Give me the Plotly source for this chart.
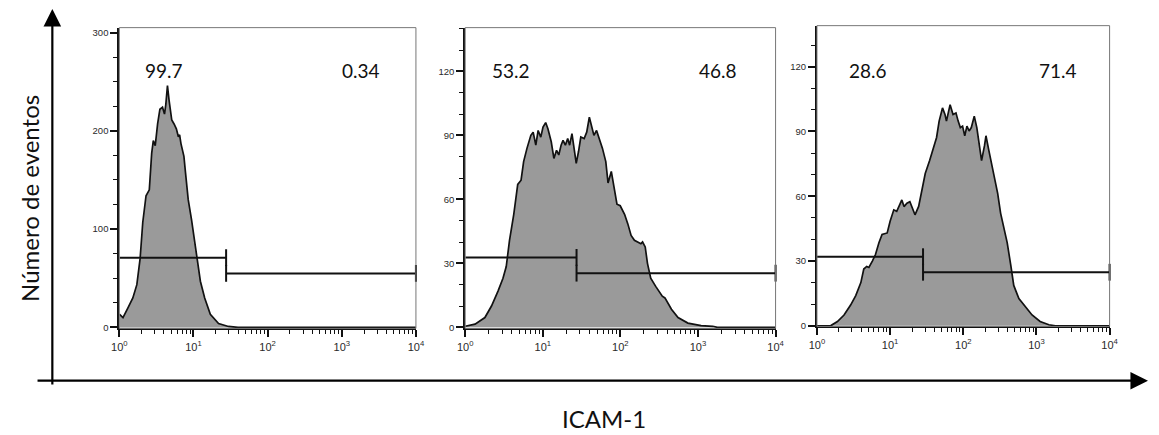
import numpy as np
import plotly.graph_objects as go

# ---------------- data (x as log10 ICAM-1 intensity, y as event counts) ----------------
p1_log = [0.0, 0.049, 0.116, 0.182, 0.236, 0.28, 0.316, 0.36, 0.404, 0.436, 0.458, 0.484, 0.516,
          0.547, 0.582, 0.609, 0.627, 0.649, 0.671, 0.707, 0.738, 0.769, 0.796, 0.813, 0.831,
          0.871, 0.893, 0.929, 0.973, 1.018, 1.049, 1.093, 1.151, 1.227, 1.338, 1.471, 1.6, 4.0]
p1_count = [13.5, 10, 20, 30, 43.5, 70, 107, 134, 140, 177, 190, 185, 207,
            222, 224, 217, 227, 246, 231, 211, 207, 202, 194, 196, 187,
            174, 157, 130, 110, 87, 67, 47, 30, 13.4, 4, 1, 0, 0]

p2_log = [0.0, 0.127, 0.254, 0.339, 0.423, 0.487, 0.529, 0.571, 0.626, 0.677, 0.72, 0.753, 0.796,
          0.825, 0.846, 0.876, 0.91, 0.94, 0.974, 1.003, 1.037, 1.067, 1.109, 1.143, 1.177, 1.206,
          1.236, 1.261, 1.291, 1.321, 1.346, 1.376, 1.397, 1.431, 1.46, 1.49, 1.533, 1.566, 1.6,
          1.63, 1.659, 1.693, 1.727, 1.769, 1.812, 1.841, 1.883, 1.926, 1.956, 1.998, 2.054, 2.096,
          2.138, 2.181, 2.235, 2.264, 2.286, 2.32, 2.349, 2.391, 2.455, 2.54, 2.574, 2.658, 2.743,
          2.87, 3.04, 3.19, 3.25, 4.0]
p2_count = [0.5, 1.5, 4.6, 10, 17, 23, 28.5, 40.8, 53, 67, 69, 77.7, 83.9,
            87, 90, 91.5, 85.4, 92.3, 89.2, 93.9, 96, 93, 87, 79.2, 83, 80.8,
            85.4, 87.7, 85.4, 88.5, 85.4, 90.8, 85.4, 76.9, 82.3, 89.2, 88.5, 91.5, 98.5,
            93.9, 90, 92.3, 88.5, 83.9, 77.7, 67.7, 73.1, 63.9, 57.7, 57, 53, 48.5,
            43.1, 40.8, 40, 39.2, 40, 37.7, 30, 23, 19.2, 14.6, 13.8, 8.5, 4.6,
            2, 0.8, 0.5, 0, 0]

p3_log = [0.0, 0.19, 0.28, 0.37, 0.46, 0.53, 0.6, 0.64, 0.68, 0.71, 0.757, 0.8, 0.847, 0.89, 0.96,
          1.0, 1.05, 1.09, 1.13, 1.16, 1.19, 1.23, 1.27, 1.3, 1.34, 1.39, 1.43, 1.48, 1.54, 1.59,
          1.635, 1.67, 1.716, 1.75, 1.77, 1.8, 1.82, 1.86, 1.9, 1.93, 1.96, 1.99, 2.02, 2.05, 2.08,
          2.11, 2.15, 2.185, 2.22, 2.25, 2.29, 2.31, 2.35, 2.38, 2.42, 2.47, 2.51, 2.56, 2.6, 2.65,
          2.69, 2.76, 2.85, 2.94, 3.05, 3.17, 3.26, 4.0]
p3_count = [0, 0.1, 2, 5, 9.6, 14, 20, 26.3, 27.5, 27, 30, 33, 38.5, 42.3, 43,
            48.4, 53.7, 53, 56, 58.3, 55.2, 56.8, 57.5, 54.5, 51.4, 55.3, 62.8, 70.5, 76.5, 82.6,
            87.2, 94.8, 100.9, 97.9, 94.8, 99.4, 102.4, 97.9, 98.6, 94.8, 91.8, 92.5, 88, 92.5, 90.2,
            91.8, 97.1, 91.8, 84.2, 76.5, 83.4, 88, 81.1, 76.5, 70.5, 61.3, 52.2, 44.6, 38.5, 27.9,
            18.7, 12.6, 8.8, 5, 2, 0.5, 0, 0]

gate_split_log = [1.44, 1.435, 1.45]
gate_left_y = [71, 32.8, 32]
gate_right_y = [55, 25.4, 24.8]
pct_left = ["99.7", "53.2", "28.6"]
pct_right = ["0.34", "46.8", "71.4"]

y_major = [[0, 100, 200, 300], [0, 30, 60, 90, 120], [0, 30, 60, 90, 120]]
y_minor_step = [25, 10, 10]
y_ranges = [[-1, 305], [-0.5, 140.5], [-0.3, 139]]
x_decades = [0, 1, 2, 3, 4]

y_title = "Número de eventos"
x_title = "ICAM-1"

# ---------------- layout geometry ----------------
W, H = 1159, 435
panels_px = [(113, 414, 27, 332), (464, 779, 27, 332), (821, 1118, 25, 330)]
label_pos = [((0.15, 0.814), 0.859), ((0.146, 0.813), 0.859), ((0.175, 0.825), 0.852)]

fig = go.Figure()
series = [(p1_log, p1_count), (p2_log, p2_count), (p3_log, p3_count)]

xt_vals = [10.0 ** d for d in x_decades]
xt_text = [f"10<sup>{d}</sup>" for d in x_decades]
xminor = [k * 10.0 ** d for d in x_decades[:-1] for k in range(2, 10)]

ytickfont = dict(family="Liberation Sans, Arial", size=9.5, color="#2a2a2a")
xtickfont = dict(family="Liberation Sans, Arial", size=11, color="#2a2a2a")
annotations = []
shapes = []

for i, ((lx, cnt), (x0, x1, yt, yb)) in enumerate(zip(series, panels_px)):
    n = "" if i == 0 else str(i + 1)
    xa, ya = "x" + n, "y" + n
    xv = [10.0 ** v for v in lx]
    fig.add_trace(go.Scatter(x=xv, y=cnt, xaxis=xa, yaxis=ya, mode="lines",
                             line=dict(color="#111111", width=1.7, shape="linear"),
                             fill="tozeroy", fillcolor="#9a9a9a", showlegend=False, hoverinfo="skip"))
    split = 10.0 ** gate_split_log[i]
    fig.add_trace(go.Scatter(x=[1.0, split], y=[gate_left_y[i]] * 2, xaxis=xa, yaxis=ya,
                             mode="lines", line=dict(color="#111111", width=2),
                             showlegend=False, hoverinfo="skip", cliponaxis=False))
    fig.add_trace(go.Scatter(x=[split, 1e4], y=[gate_right_y[i]] * 2, xaxis=xa, yaxis=ya,
                             mode="lines", line=dict(color="#111111", width=2),
                             showlegend=False, hoverinfo="skip", cliponaxis=False))
    fig.add_trace(go.Scatter(x=[split, split, 1e4],
                             y=[gate_left_y[i], gate_right_y[i], gate_right_y[i]],
                             xaxis=xa, yaxis=ya, mode="markers",
                             marker=dict(symbol="line-ns", size=12,
                                         line=dict(color="#111111", width=2)),
                             showlegend=False, hoverinfo="skip", cliponaxis=False))

    ymaj = y_major[i]
    ymin_vals = [v for v in np.arange(0, y_ranges[i][1], y_minor_step[i]) if v not in ymaj]
    xdom = [x0 / W, x1 / W]
    ydom = [1 - yb / H, 1 - yt / H]
    fig.update_layout(**{
        ("xaxis" + n): dict(domain=xdom, type="log", range=[0, 4], anchor=ya,
                            tickmode="array", tickvals=xt_vals, ticktext=xt_text,
                            ticks="outside", ticklen=7, tickwidth=1.5, tickcolor="#111111",
                            minor=dict(tickmode="array", tickvals=xminor, ticks="outside",
                                       ticklen=4, tickwidth=1, tickcolor="#111111", showgrid=False),
                            showline=True, linecolor="#111111", linewidth=2, mirror=False,
                            showgrid=False, zeroline=False, tickfont=xtickfont, fixedrange=True),
        ("yaxis" + n): dict(domain=ydom, range=y_ranges[i], anchor=xa,
                            tickmode="array", tickvals=ymaj,
                            ticks="outside", ticklen=7, tickwidth=1.5, tickcolor="#111111",
                            minor=dict(tickmode="array", tickvals=ymin_vals, ticks="outside",
                                       ticklen=4, tickwidth=1, tickcolor="#111111", showgrid=False),
                            showline=True, linecolor="#111111", linewidth=2, mirror=False,
                            showgrid=False, zeroline=False, tickfont=ytickfont, fixedrange=True),
    })
    shapes.append(dict(type="rect", xref=xa + " domain", yref=ya + " domain",
                       x0=0, x1=1, y0=0, y1=1, line=dict(color="#777777", width=1), layer="above"))
    (lxp, rxp), yp = label_pos[i]
    for txt, xp in ((pct_left[i], lxp), (pct_right[i], rxp)):
        annotations.append(dict(text=txt, xref=xa + " domain", yref=ya + " domain",
                                x=xp, y=yp, xanchor="center", yanchor="middle", showarrow=False,
                                font=dict(family="Lato, Carlito, sans-serif", size=19, color="#111111")))

# big arrows
annotations.append(dict(x=45 / W, y=1 - 8 / H, xref="paper", yref="paper", text="",
                        showarrow=True, ax=0, ay=377, arrowhead=2, arrowsize=1.6,
                        arrowwidth=2.2, arrowcolor="#000000", standoff=0))
annotations.append(dict(x=1157 / W, y=1 - 385 / H, xref="paper", yref="paper", text="",
                        showarrow=True, ax=-1112, ay=0, arrowhead=2, arrowsize=1.6,
                        arrowwidth=2.2, arrowcolor="#000000", standoff=0))
annotations.append(dict(text=y_title, x=22 / W, y=1 - 200 / H, xref="paper", yref="paper",
                        xanchor="center", yanchor="middle", textangle=-90, showarrow=False,
                        font=dict(family="Lato, sans-serif", size=24, color="#111111")))
annotations.append(dict(text=x_title, x=605 / W, y=1 - 423 / H, xref="paper", yref="paper",
                        xanchor="center", yanchor="middle", showarrow=False,
                        font=dict(family="Lato, sans-serif", size=24, color="#111111")))

fig.update_layout(width=W, height=H, margin=dict(l=0, r=0, t=0, b=0),
                  paper_bgcolor="white", plot_bgcolor="white",
                  annotations=annotations, shapes=shapes, showlegend=False)

fig.write_html("out.html")
